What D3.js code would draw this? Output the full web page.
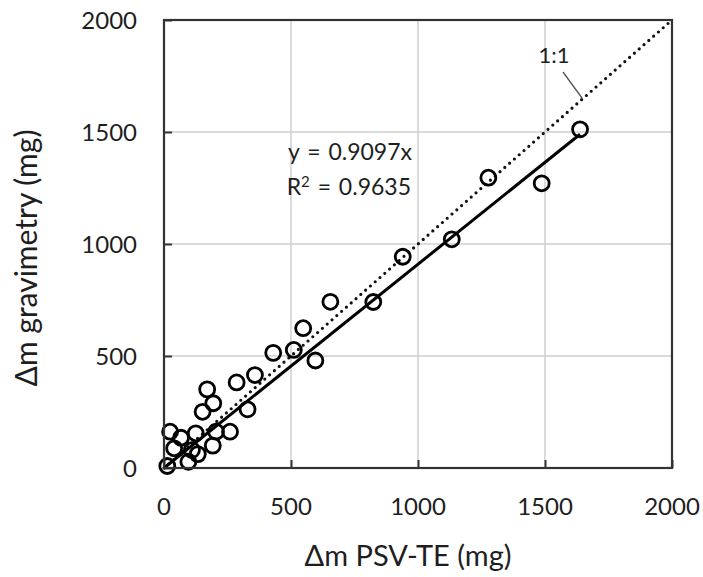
<!DOCTYPE html>
<html lang="en">
<head>
  <meta charset="UTF-8">
  <title>Δm gravimetry vs Δm PSV-TE</title>
  <script src="https://d3js.org/d3.v7.min.js"></script>
  <style>
    body { margin: 0; background: #fff; }
    text { font-family: Lato, "Open Sans", sans-serif; fill: #1e1e1e; }
  </style>
</head>
<body>
  <script>
    // Data (mg)
    const psvTE = [13, 24, 67, 40, 125, 96, 133, 110, 192, 205, 260, 152, 194, 170,
                   286, 358, 329, 430, 511, 548, 596, 655, 824, 940, 1133, 1277, 1487, 1638];
    const gravimetry = [9, 162, 135, 88, 155, 28, 62, 80, 100, 162, 162, 251, 289, 351,
                        382, 415, 262, 514, 527, 624, 480, 742, 741, 943, 1021, 1296, 1271, 1512];
    const ticks = [0, 500, 1000, 1500, 2000];
    const slope = 0.9097;
    const r2 = 0.9635;

    const width = 703, height = 577;
    const margin = { left: 164, top: 20, right: 31, bottom: 109 };

    const svg = d3.select("body").append("svg")
      .attr("width", width)
      .attr("height", height);

    const x = d3.scaleLinear().domain([0, 2000]).range([margin.left, width - margin.right]);
    const y = d3.scaleLinear().domain([0, 2000]).range([height - margin.bottom, margin.top]);

    // gridlines
    svg.append("g").selectAll("line")
      .data(ticks.slice(1, -1))
      .enter().append("line")
      .attr("x1", d => x(d)).attr("x2", d => x(d))
      .attr("y1", y(0)).attr("y2", y(2000))
      .style("stroke", "#cfcfcf").style("stroke-width", 1.5);
    svg.append("g").selectAll("line")
      .data(ticks.slice(1, -1))
      .enter().append("line")
      .attr("y1", d => y(d)).attr("y2", d => y(d))
      .attr("x1", x(0)).attr("x2", x(2000))
      .style("stroke", "#cfcfcf").style("stroke-width", 1.5);

    // axes with inward ticks
    const xAxis = svg.append("g")
      .attr("transform", `translate(0,${y(0)})`)
      .call(d3.axisTop(x).tickValues(ticks).tickSize(8).tickFormat(""));
    const yAxis = svg.append("g")
      .attr("transform", `translate(${x(0)},0)`)
      .call(d3.axisRight(y).tickValues(ticks).tickSize(8).tickFormat(""));
    [xAxis, yAxis].forEach(a => {
      a.select(".domain").remove();
      a.selectAll("line").style("stroke", "#333").style("stroke-width", 2);
    });

    // tick labels
    svg.append("g").selectAll("text")
      .data(ticks).enter().append("text")
      .attr("x", d => x(d)).attr("y", 515)
      .attr("text-anchor", "middle")
      .style("font-size", "24px")
      .text(d => d);
    svg.append("g").selectAll("text")
      .data(ticks).enter().append("text")
      .attr("x", 137).attr("y", d => y(d) + 8.5)
      .attr("text-anchor", "end")
      .style("font-size", "24px")
      .text(d => d);

    // 1:1 line (dotted)
    svg.append("line")
      .attr("x1", x(0)).attr("y1", y(0))
      .attr("x2", x(2000)).attr("y2", y(2000))
      .style("stroke", "#111").style("stroke-width", 3.2)
      .style("stroke-linecap", "round")
      .style("stroke-dasharray", "0,6.4");

    // fit line
    svg.append("line")
      .attr("x1", x(0)).attr("y1", y(0))
      .attr("x2", x(d3.max(psvTE))).attr("y2", y(slope * d3.max(psvTE)))
      .style("stroke", "#000").style("stroke-width", 3);

    // points
    svg.append("g").selectAll("circle")
      .data(psvTE.map((v, i) => [v, gravimetry[i]]))
      .enter().append("circle")
      .attr("cx", d => x(d[0])).attr("cy", d => y(d[1]))
      .attr("r", 7.5)
      .style("fill", "none")
      .style("stroke", "#000")
      .style("stroke-width", 2.8);

    // frame
    svg.append("rect")
      .attr("x", x(0)).attr("y", y(2000))
      .attr("width", x(2000) - x(0)).attr("height", y(0) - y(2000))
      .style("fill", "none").style("stroke", "#333").style("stroke-width", 2.2);

    // annotations
    svg.append("text").attr("x", 412).attr("y", 160)
      .attr("text-anchor", "end").style("font-size", "23px")
      .style("word-spacing", "2px")
      .text(`y = ${slope}x`);
    const r2Text = svg.append("text").attr("x", 411).attr("y", 195)
      .attr("text-anchor", "end").style("font-size", "23px")
      .style("word-spacing", "2px");
    r2Text.append("tspan").text("R");
    r2Text.append("tspan").attr("dy", -8).style("font-size", "15px").text("2");
    r2Text.append("tspan").attr("dy", 8).text(` = ${r2}`);

    svg.append("text").attr("x", 554).attr("y", 63)
      .attr("text-anchor", "middle").style("font-size", "22px")
      .text("1:1");
    svg.append("line")
      .attr("x1", 563).attr("y1", 72).attr("x2", 582).attr("y2", 98)
      .style("stroke", "#555").style("stroke-width", 1.3);

    // axis titles
    svg.append("text").attr("x", 408).attr("y", 566)
      .attr("text-anchor", "middle").style("font-size", "29px")
      .text("Δm PSV-TE (mg)");
    svg.append("text")
      .attr("transform", `translate(37,258) rotate(-90)`)
      .attr("text-anchor", "middle").style("font-size", "30px")
      .text("Δm gravimetry (mg)");
  </script>
</body>
</html>
